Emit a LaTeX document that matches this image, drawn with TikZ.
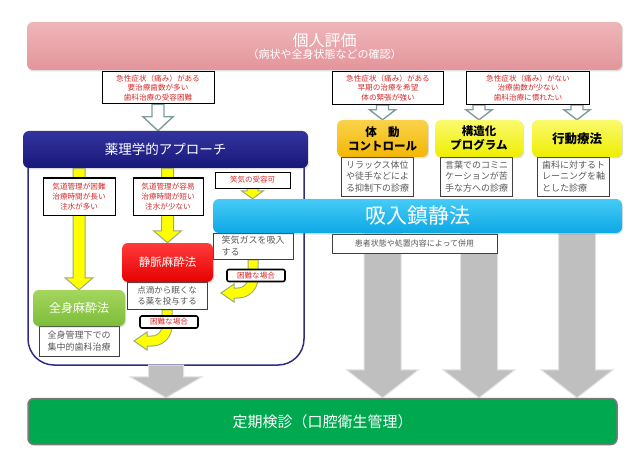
\documentclass[tikz,border=0pt]{standalone}
\usepackage{fontspec}
\setmainfont{Noto Sans CJK JP}
\usetikzlibrary{calc,shadows}
\definecolor{pinktop}{HTML}{EFB6BA}
\definecolor{pinkbot}{HTML}{E3959B}
\definecolor{navytop}{HTML}{33339E}
\definecolor{navybot}{HTML}{18187A}
\definecolor{ambertop}{HTML}{FAD24A}
\definecolor{amberbot}{HTML}{F2B705}
\definecolor{lemontop}{HTML}{FAFA6E}
\definecolor{lemonbot}{HTML}{EEEE00}
\definecolor{skytop}{HTML}{45CBF6}
\definecolor{skybot}{HTML}{0DA8E6}
\definecolor{redtop}{HTML}{FF3B3B}
\definecolor{redbot}{HTML}{E60000}
\definecolor{leaftop}{HTML}{A4D65E}
\definecolor{leafbot}{HTML}{7DBD3A}
\definecolor{checkupgreen}{HTML}{00A84F}
\definecolor{checkupedge}{HTML}{7A7A7A}
\definecolor{condred}{HTML}{D42A2A}
\definecolor{descgray}{HTML}{595959}
\definecolor{descline}{HTML}{3F3F3F}
\definecolor{hollowline}{HTML}{7F9C9E}
\definecolor{arrowyellow}{HTML}{FFFF00}
\definecolor{arrowedge}{HTML}{9BAA78}
\definecolor{bigarrow}{HTML}{BFBFBF}
\definecolor{bigarrowedge}{HTML}{E2E2E2}
\definecolor{framenavy}{HTML}{2E2E7E}

\pgfdeclarelayer{back}
\pgfsetlayers{back,main}

% block arrow pointing down: style, top, tip, half shaft, half head, head length
\newcommand{\blockarrow}[6]{%
  \path[#1] let \p1=(#2), \p2=(#3) in
    (\x1-#4,\y1) -- (\x1+#4,\y1) -- (\x1+#4,\y2+#6) -- (\x1+#5,\y2+#6)
    -- (\x1,\y2) -- (\x1-#5,\y2+#6) -- (\x1-#4,\y2+#6) -- cycle;}

% yellow band going down, then turning left
\newcommand{\turnarrow}[2]{%
  \draw[line width=11pt, draw=arrowedge] let \p1=(#1), \p2=(#2) in
    (\x1,\y1) -- (\x1,\y2+15pt) arc[start angle=0, end angle=-90, radius=15pt] -- (\x2+13pt,\y2);
  \filldraw[yellowarrow] let \p2=(#2) in
    (\x2,\y2) -- (\x2+13pt,\y2+9pt) -- (\x2+13pt,\y2-9pt) -- cycle;
  \draw[line width=9pt, draw=arrowyellow] let \p1=(#1), \p2=(#2) in
    (\x1,\y1-1pt) -- (\x1,\y2+15pt) arc[start angle=0, end angle=-90, radius=15pt] -- (\x2+12pt,\y2);}

\begin{document}
\begin{tikzpicture}[x=1pt, y=-1pt,
  every node/.style={inner sep=1pt},
  boxshadow/.style={drop shadow={opacity=0.25, shadow xshift=1pt, shadow yshift=-1.5pt}},
  colorbox/.style={rounded corners=6pt, text=white, align=center, boxshadow},
  redtext/.style={text=condred, font=\fontsize{7.6}{9.8}\selectfont},
  condbox/.style={draw=black, line width=1pt, fill=white, align=center, redtext},
  descbox/.style={draw=descline, line width=0.8pt, fill=white, text=descgray, align=left,
    font=\fontsize{9}{11.5}\selectfont},
  hardbox/.style={draw=black, line width=1.6pt, rounded corners=2pt, fill=white, redtext,
    minimum width=58pt, minimum height=12pt},
  hollowarrow/.style={fill=white, draw=hollowline, line width=1.4pt},
  yellowarrow/.style={fill=arrowyellow, draw=arrowedge, line width=1pt},
  grayarrow/.style={fill=bigarrow, draw=bigarrowedge, line width=1pt},
  frame/.style={draw=framenavy, line width=1.5pt, rounded corners=26pt}]

  \useasboundingbox (0,0) rectangle (640,468);
  \begin{pgfonlayer}{back}
    \fill[white] (0,0) rectangle (640,468);
  \end{pgfonlayer}

  % Assessment
  \node[colorbox, top color=pinktop, bottom color=pinkbot, minimum width=595pt, minimum height=48pt]
    (eval) at (324.5,46) {{\fontsize{16}{18}\selectfont 個人評価}\\{\fontsize{11}{13}\selectfont （病状や全身状態などの確認）}};

  % Conditions
  \node[condbox, minimum width=112pt, minimum height=32pt] (cond1) at (158,88)
    {急性症状（痛み）がある\\要治療歯数が多い\\歯科治療の受容困難};
  \node[condbox, minimum width=111pt, minimum height=33pt] (cond2) at (388,88)
    {急性症状（痛み）がある\\早期の治療を希望\\体の緊張が強い};
  \node[condbox, minimum width=123pt, minimum height=33pt] (cond3) at (528,88)
    {急性症状（痛み）がない\\治療歯数が少ない\\歯科治療に慣れたい};

  % Pharmacological approach
  \node[colorbox, top color=navytop, bottom color=navybot, minimum width=285pt, minimum height=37pt,
    font=\fontsize{13.5}{16}\selectfont] (pharm) at (165.5,149.5) {薬理学的アプローチ};

  % Descriptions under the methods
  \foreach \name/\x/\txt in {ctrldesc/377.5/{リラックス体位\\や徒手などによ\\る抑制下の診療},
      progdesc/476.5/{言葉でのコミニ\\ケーションが苦\\手な方への診療},
      behavdesc/573.5/{歯科に対するト\\レーニングを軸\\とした診療}}
    \node[descbox, minimum width=72pt, minimum height=39pt] (\name) at (\x,176.5) {\txt};

  % Behavioural methods
  \node[colorbox, top color=ambertop, bottom color=amberbot, text=black, minimum width=91pt,
    minimum height=37pt, font=\bfseries\fontsize{11.5}{14}\selectfont] (ctrl) at (382.5,138.5)
    {体\hspace{1em}動\\コントロール};
  \node[colorbox, top color=lemontop, bottom color=lemonbot, text=black, minimum width=88pt,
    minimum height=37pt, font=\bfseries\fontsize{11.5}{14}\selectfont] (prog) at (479,138.5)
    {構造化\\プログラム};
  \node[colorbox, top color=lemontop, bottom color=lemonbot, text=black, minimum width=90pt,
    minimum height=37pt, font=\bfseries\fontsize{12.5}{14}\selectfont] (behav) at (577,138.5)
    {行動療法};

  % Inhalation sedation
  \node[descbox, minimum width=80pt, minimum height=26pt] (gas) at (253,246) {笑気ガスを吸入\\する};
  \node[descbox, align=center, font=\fontsize{8}{10}\selectfont, minimum width=165pt,
    minimum height=19pt] (combo) at (414.5,243.5) {患者状態や処置内容によって併用};
  \node[colorbox, top color=skytop, bottom color=skybot, minimum width=409pt, minimum height=34pt,
    font=\fontsize{21}{24}\selectfont] (sedation) at (417.5,216) {吸入鎮静法};
  \node[condbox, line width=0.8pt, font=\fontsize{7.5}{9}\selectfont, minimum width=75pt,
    minimum height=16pt] (n2o) at (252.5,180) {笑気の受容可};

  % Inside the frame
  \node[condbox, minimum width=72pt, minimum height=37pt] (incond1) at (79,196.5)
    {気道管理が困難\\治療時間が長い\\注水が多い};
  \node[condbox, minimum width=70pt, minimum height=37pt] (incond2) at (168,196.5)
    {気道管理が容易\\治療時間が短い\\注水が少ない};

  \node[descbox, font=\fontsize{8.5}{11}\selectfont, minimum width=80pt, minimum height=27pt]
    (ivdesc) at (167,295.5) {点滴から眠くな\\る薬を投与する};
  \node[colorbox, top color=redtop, bottom color=redbot, minimum width=91pt, minimum height=39pt,
    font=\fontsize{11.5}{14}\selectfont] (iv) at (167.5,262.5) {静脈麻酔法};
  \node[descbox, font=\fontsize{9}{12}\selectfont, minimum width=80pt, minimum height=30pt]
    (gadesc) at (79,341.5) {全身管理下での\\集中的歯科治療};
  \node[colorbox, top color=leaftop, bottom color=leafbot, minimum width=92pt, minimum height=36pt,
    font=\fontsize{12}{14}\selectfont] (ga) at (79,308) {全身麻酔法};

  \node[hardbox] (hard1) at (256,275.5) {困難な場合};
  \node[hardbox] (hard2) at (169,322) {困難な場合};

  % Regular checkup
  \node[draw=checkupedge, line width=1.5pt, fill=checkupgreen, rounded corners=6pt, text=white,
    minimum width=589pt, minimum height=46pt, font=\fontsize{15}{18}\selectfont]
    (checkup) at (322.5,421.5) {定期検診（口腔衛生管理）};

  \coordinate (turn1) at (221,293);
  \coordinate (turn2) at (134,341);
  \coordinate (framebot) at (166,365);

  \begin{pgfonlayer}{back}
    % Frame of the pharmacological approach
    \draw[frame] (28,160) -- (28,365) -- (304,365) -- (304,160);

    % Hollow arrows
    \blockarrow{hollowarrow}{cond1.south}{pharm.north}{6pt}{15pt}{14pt}
    \foreach \src/\dst in {cond2/ctrl, cond3/prog, cond3/behav}
      {\blockarrow{hollowarrow}{\dst.north |- \src.south}{\dst.north}{6pt}{13pt}{10pt}}

    % Yellow arrows
    \foreach \dst in {ga, iv}
      {\blockarrow{yellowarrow}{\dst.north |- pharm.south}{\dst.north}{6pt}{14pt}{12pt}}
    \blockarrow{yellowarrow}{n2o.south}{sedation.north}{5.5pt}{11pt}{8pt}

    % Gray arrows to the checkup
    \blockarrow{grayarrow}{framebot}{checkup.north -| framebot}{17.5pt}{36pt}{21pt}
    \foreach \dst in {ctrl, prog, behav}
      {\blockarrow{grayarrow}{\dst.south |- sedation.south}{\dst.south |- checkup.north}{18.5pt}{36pt}{28pt}}

    % When it is difficult
    \turnarrow{gas.south}{turn1}
    \turnarrow{ivdesc.south}{turn2}
  \end{pgfonlayer}
\end{tikzpicture}
\end{document}
